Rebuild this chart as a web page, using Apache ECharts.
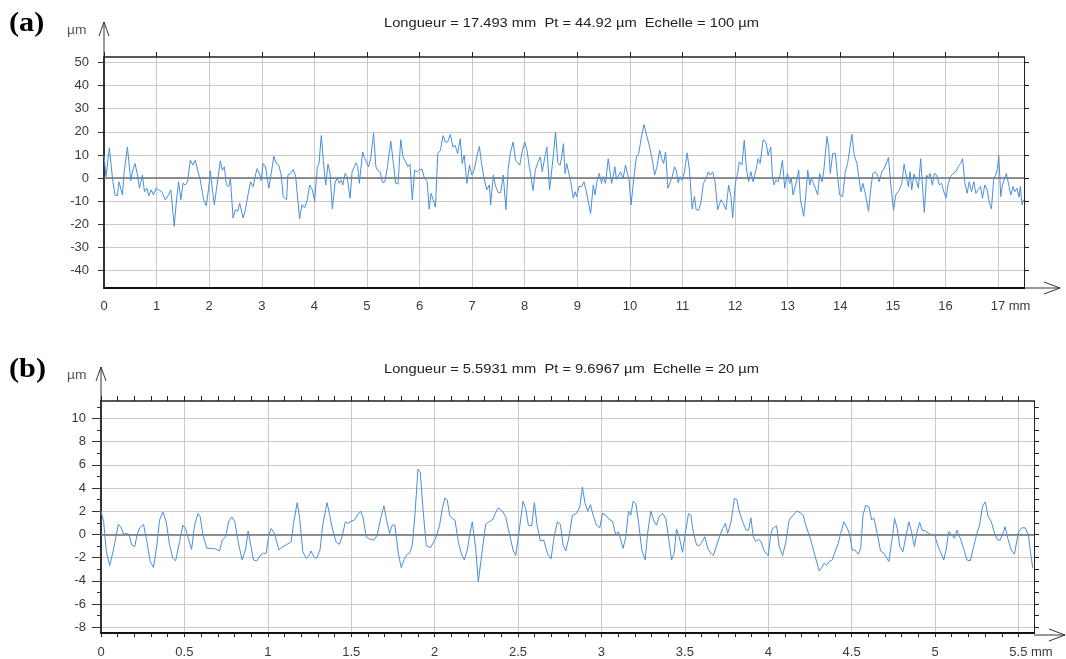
<!DOCTYPE html>
<html>
<head>
<meta charset="utf-8">
<script src="https://cdn.jsdelivr.net/npm/echarts@6/dist/echarts.min.js"></script>
<style>html,body{margin:0;padding:0;background:#fff}#c{width:1066px;height:659px}</style>
</head>
<body>
<div id="c"></div>
<script>
// ---------- texts ----------
const TITLE_A = 'Longueur = 17.493 mm  Pt = 44.92 µm  Echelle = 100 µm';
const TITLE_B = 'Longueur = 5.5931 mm  Pt = 9.6967 µm  Echelle = 20 µm';
const UNIT_Y = 'µm';
const UNIT_X = 'mm';

// ---------- axis ranges and ticks ----------
const A_X_RANGE = [0, 17.493];
const A_Y_RANGE = [-47.6, 52.4];
const A_X_TICKS = [0,1,2,3,4,5,6,7,8,9,10,11,12,13,14,15,16,17];
const A_Y_TICKS = [-40,-30,-20,-10,0,10,20,30,40,50];

const B_X_RANGE = [0, 5.5931];
const B_Y_RANGE = [-8.5, 11.5];
const B_X_TICKS = [0,0.5,1,1.5,2,2.5,3,3.5,4,4.5,5,5.5];
const B_X_MINOR = [0,0.1,0.2,0.3,0.4,0.5,0.6,0.7,0.8,0.9,1,1.1,1.2,1.3,1.4,1.5,1.6,1.7,1.8,1.9,2,2.1,2.2,2.3,2.4,2.5,2.6,2.7,2.8,2.9,3,3.1,3.2,3.3,3.4,3.5,3.6,3.7,3.8,3.9,4,4.1,4.2,4.3,4.4,4.5,4.6,4.7,4.8,4.9,5,5.1,5.2,5.3,5.4,5.5];
const B_Y_TICKS = [-8,-6,-4,-2,0,2,4,6,8,10];
const B_Y_MINOR = [-8,-7,-6,-5,-4,-3,-2,-1,0,1,2,3,4,5,6,7,8,9,10,11];

// ---------- profile (a): [x mm, z µm] ----------
const PROFILE_A = [
[0.000,9.9],[0.038,0.6],[0.102,13.1],[0.165,-0.9],[0.210,-7.3],[0.254,-7.7],[0.286,-1.6],[0.318,-1.6],[0.350,-7.3],[0.381,2.0],[0.445,13.4],[0.509,-1.1],[0.547,3.4],[0.591,6.3],[0.636,1.3],[0.674,-4.4],[0.731,1.3],[0.769,-5.9],[0.814,-4.4],[0.852,-7.7],[0.896,-5.1],[0.941,-7.3],[0.992,-4.4],[1.036,-5.1],[1.100,-5.9],[1.163,-9.4],[1.227,-7.3],[1.271,-5.1],[1.335,-20.9],[1.373,-10.9],[1.418,-1.6],[1.462,-9.4],[1.500,-2.3],[1.545,-3.0],[1.589,-1.6],[1.640,7.7],[1.691,5.6],[1.736,7.7],[1.780,3.4],[1.831,-0.9],[1.894,-9.4],[1.945,-12.0],[1.990,-4.4],[2.022,3.1],[2.054,-3.7],[2.098,-11.6],[2.149,-3.0],[2.212,7.4],[2.250,3.4],[2.289,4.9],[2.327,-3.0],[2.371,-3.7],[2.403,-0.1],[2.454,-17.3],[2.498,-13.7],[2.543,-14.4],[2.581,-10.9],[2.645,-17.3],[2.689,-13.7],[2.721,-9.4],[2.785,-1.6],[2.835,-3.7],[2.880,1.3],[2.912,4.1],[2.963,1.3],[2.988,-1.1],[3.026,6.3],[3.071,4.9],[3.134,-4.4],[3.179,2.0],[3.230,9.4],[3.274,6.3],[3.325,5.6],[3.369,1.3],[3.407,-8.0],[3.471,-9.4],[3.497,1.3],[3.547,2.0],[3.598,3.7],[3.643,0.9],[3.719,-17.7],[3.763,-11.6],[3.814,-13.0],[3.865,-9.4],[3.910,-3.0],[3.961,-5.1],[4.005,-10.1],[4.056,4.9],[4.088,6.3],[4.132,18.4],[4.170,7.7],[4.215,-3.0],[4.259,6.0],[4.298,2.0],[4.342,-13.4],
[4.396,-1.6],[4.434,-0.1],[4.472,-2.3],[4.509,-0.9],[4.541,-3.0],[4.585,2.0],[4.623,0.6],[4.679,-8.7],[4.717,2.7],[4.748,3.4],[4.792,6.6],[4.824,4.9],[4.855,-2.3],[4.918,11.3],[4.950,8.9],[4.987,8.4],[5.031,4.9],[5.075,9.1],[5.126,19.4],[5.170,4.9],[5.201,3.4],[5.252,2.7],[5.296,-2.0],[5.340,-1.6],[5.390,4.9],[5.453,16.0],[5.503,6.3],[5.547,-2.3],[5.591,-2.6],[5.642,16.6],[5.686,9.1],[5.736,7.0],[5.780,4.9],[5.818,6.0],[5.862,-9.4],[5.906,3.4],[5.956,2.7],[6.006,3.7],[6.050,3.7],[6.094,-0.1],[6.145,-1.6],[6.182,-13.4],[6.220,-6.6],[6.258,-9.4],[6.302,-12.6],[6.346,10.6],[6.396,12.0],[6.447,18.4],[6.491,15.6],[6.535,15.6],[6.585,18.9],[6.635,13.4],[6.679,14.1],[6.723,10.6],[6.774,17.0],[6.811,6.3],[6.849,9.9],[6.899,-2.3],[6.950,5.6],[6.994,1.3],[7.038,3.4],[7.088,9.1],[7.138,13.7],[7.182,5.6],[7.226,-0.1],[7.277,-5.1],[7.327,-3.0],[7.352,-11.6],[7.403,1.3],[7.447,-3.7],[7.497,-6.3],[7.541,-6.3],[7.591,1.3],[7.642,-13.7],[7.686,4.1],[7.730,11.3],[7.780,15.6],[7.824,7.7],[7.862,8.4],[7.906,5.6],[7.950,11.3],[8.000,15.6],[8.044,12.0],[8.082,5.6],[8.119,0.6],[8.157,-5.4],[8.201,3.4],[8.252,7.0],[8.296,9.1],[8.333,2.7],[8.377,8.4],[8.421,13.4],[8.472,-5.1],[8.503,-5.9],[8.547,10.6],[8.585,19.9],[8.629,6.6],[8.673,5.6],
[8.703,9.1],[8.735,14.9],[8.767,2.0],[8.798,6.3],[8.830,5.6],[8.874,-1.6],[8.924,-8.7],[8.956,-5.9],[8.987,-8.0],[9.032,-3.7],[9.082,-3.7],[9.126,-1.6],[9.164,-5.1],[9.208,-10.1],[9.252,-15.4],[9.303,-3.0],[9.334,-7.3],[9.379,-0.9],[9.416,2.0],[9.461,-2.3],[9.492,0.6],[9.536,-2.3],[9.587,8.4],[9.618,3.4],[9.650,-2.3],[9.681,0.6],[9.713,4.9],[9.744,-0.6],[9.782,-0.9],[9.820,2.7],[9.871,-0.1],[9.915,5.6],[9.953,4.9],[9.984,-0.9],[10.022,-11.6],[10.073,-0.1],[10.123,9.1],[10.167,10.6],[10.218,17.7],[10.268,23.1],[10.312,19.1],[10.344,18.4],[10.375,13.4],[10.426,7.7],[10.470,1.3],[10.514,4.9],[10.565,12.0],[10.603,8.4],[10.640,6.3],[10.678,11.3],[10.722,-4.4],[10.754,-4.4],[10.804,0.6],[10.849,4.9],[10.880,3.4],[10.918,-2.0],[10.956,0.6],[10.994,-0.9],[11.038,2.7],[11.088,10.9],[11.132,3.4],[11.183,-13.4],[11.227,-8.0],[11.259,-13.7],[11.309,-14.0],[11.353,-10.1],[11.397,-2.3],[11.448,-0.1],[11.492,2.7],[11.530,1.3],[11.574,2.7],[11.618,-1.6],[11.669,-13.7],[11.732,-9.4],[11.776,-10.9],[11.826,-13.7],[11.877,-3.0],[11.921,-8.0],[11.953,-17.3],[12.003,-2.3],[12.047,2.0],[12.079,7.0],[12.129,5.6],[12.174,16.3],[12.218,3.4],[12.256,-1.6],[12.300,2.7],[12.344,-1.6],[12.394,3.4],[12.438,8.4],[12.476,6.3],[12.533,16.6],[12.584,15.6],[12.628,9.9],[12.678,13.4],[12.710,0.6],[12.741,-3.0],[12.773,-0.9],[12.817,-1.6],[12.855,1.3],[12.899,7.7],[12.943,-4.4],[12.994,2.0],[13.038,-2.3],[13.069,-0.1],[13.101,-7.3],
[13.166,-1.6],[13.210,3.4],[13.242,-9.4],[13.274,-10.1],[13.305,-16.6],[13.337,-9.4],[13.381,3.4],[13.419,-3.0],[13.450,-0.1],[13.482,-0.9],[13.526,-4.4],[13.570,-7.3],[13.608,2.0],[13.653,-1.6],[13.684,2.7],[13.747,18.0],[13.779,13.4],[13.810,2.0],[13.855,10.6],[13.905,10.6],[13.949,0.6],[13.987,-7.3],[14.044,-8.0],[14.095,2.7],[14.139,6.3],[14.177,7.0],[14.221,18.9],[14.265,9.9],[14.316,6.3],[14.360,-0.9],[14.392,-5.9],[14.430,-2.3],[14.474,-6.6],[14.537,-14.4],[14.581,-4.4],[14.619,2.0],[14.663,2.7],[14.708,1.3],[14.739,-1.6],[14.790,2.7],[14.834,4.1],[14.872,3.4],[14.916,8.9],[14.960,-3.0],[15.011,-14.0],[15.055,-7.3],[15.087,-8.0],[15.124,-5.1],[15.169,-2.3],[15.213,6.0],[15.251,1.3],[15.295,-3.7],[15.327,2.7],[15.358,-5.1],[15.402,1.7],[15.453,-1.6],[15.485,-4.4],[15.529,8.4],[15.567,-5.1],[15.598,-14.9],[15.642,1.3],[15.674,-0.1],[15.706,2.0],[15.750,-3.0],[15.788,2.0],[15.832,1.3],[15.882,-3.0],[15.927,-2.3],[15.958,-5.1],[16.009,-8.7],[16.053,-2.3],[16.097,0.6],[16.148,2.0],[16.192,2.7],[16.243,4.9],[16.287,6.3],[16.325,8.4],[16.369,-2.3],[16.413,-6.6],[16.451,-1.6],[16.495,-5.9],[16.540,-1.6],[16.577,-6.6],[16.622,-5.1],[16.666,-3.7],[16.704,-8.7],[16.748,-3.0],[16.792,-5.1],[16.830,-10.1],[16.874,-13.4],[16.918,-0.1],[16.956,1.3],[16.988,4.1],[17.013,9.9],[17.051,-8.0],[17.083,-3.0],[17.127,-0.1],[17.158,2.0],[17.209,-3.7],[17.241,-7.3],[17.285,-3.7],[17.317,-5.9],[17.361,-4.4],[17.399,-8.3],[17.424,-3.7],[17.456,-11.6],[17.487,-9.4]
];

// ---------- profile (b): [x mm, z µm] ----------
const PROFILE_B = [
[0,2.0],[0.016,1.09],[0.032,-1.49],[0.052,-2.69],[0.072,-1.49],[0.088,-0.34],[0.104,0.86],[0.118,0.66],[0.136,0],[0.152,0.09],[0.168,0],[0.184,-0.91],[0.202,-1.06],[0.216,-0.06],[0.232,0.57],[0.255,0.86],[0.275,-0.63],[0.295,-2.34],[0.315,-2.86],[0.335,-0.91],[0.351,1.23],[0.371,1.94],[0.391,1.09],[0.411,-0.91],[0.431,-2.06],[0.447,-2.29],[0.471,-0.63],[0.491,0.8],[0.507,0.51],[0.523,-0.34],[0.543,-1.29],[0.561,0.8],[0.581,1.8],[0.595,1.51],[0.611,-0.06],[0.635,-1.2],[0.661,-1.2],[0.687,-1.26],[0.711,-1.43],[0.727,-0.49],[0.747,-0.2],[0.766,1.14],[0.784,1.51],[0.802,1.09],[0.822,-0.63],[0.846,-2.2],[0.866,-1.34],[0.882,0.29],[0.894,-0.63],[0.914,-2.2],[0.934,-2.29],[0.954,-1.83],[0.974,-1.63],[0.990,-1.63],[1.006,-0.06],[1.020,0.51],[1.040,0.09],[1.066,-1.34],[1.090,-1.06],[1.110,-0.91],[1.140,-0.63],[1.154,0.94],[1.176,2.74],[1.190,1.51],[1.210,-1.49],[1.230,-2.06],[1.250,-1.77],[1.259,-1.43],[1.279,-2.0],[1.293,-2.06],[1.313,-1.34],[1.329,0.8],[1.355,2.74],[1.369,1.8],[1.389,0.37],[1.409,-0.63],[1.429,-0.86],[1.445,-0.2],[1.465,1.09],[1.479,0.94],[1.499,1.14],[1.519,1.23],
[1.536,1.66],[1.556,2.0],[1.570,1.51],[1.590,-0.2],[1.610,-0.4],[1.636,-0.49],[1.656,-0.06],[1.676,1.37],[1.696,2.46],[1.710,1.37],[1.730,0.09],[1.746,0.8],[1.762,0.8],[1.782,-1.63],[1.800,-2.86],[1.816,-2.2],[1.836,-1.71],[1.850,-1.63],[1.866,-0.91],[1.882,1.66],[1.900,5.63],[1.914,5.37],[1.930,2.23],[1.950,-0.97],[1.976,-1.14],[1.986,-1.2],[2.006,-0.34],[2.030,0.8],[2.046,2.23],[2.062,3.14],[2.076,2.94],[2.090,1.66],[2.106,1.37],[2.122,1.23],[2.142,-0.63],[2.162,-1.77],[2.178,-2.2],[2.196,-1.34],[2.210,-0.06],[2.226,1.09],[2.246,-1.2],[2.262,-4.06],[2.282,-1.77],[2.306,0.86],[2.326,1.09],[2.350,1.31],[2.366,1.89],[2.382,2.29],[2.406,2.0],[2.426,1.51],[2.450,-0.06],[2.470,-1.34],[2.486,-1.83],[2.506,0.23],[2.530,2.86],[2.546,2.23],[2.562,0.8],[2.582,0.74],[2.598,2.74],[2.614,0.8],[2.634,-0.57],[2.654,-0.49],[2.676,-1.63],[2.698,-2.11],[2.716,-0.2],[2.736,1.09],[2.754,0.86],[2.770,-0.91],[2.786,-1.43],[2.806,-0.2],[2.826,1.66],[2.850,1.8],[2.870,2.37],[2.886,4.09],[2.902,2.66],[2.918,2.0],[2.934,2.57],[2.950,1.66],[2.970,0.8],[2.990,0.57],[3.006,1.8],[3.026,1.66],[3.046,1.31],[3.066,1.14],[3.086,-0.06],[3.102,0.23],[3.116,-0.49],[3.130,-1.2],[3.146,-0.2],[3.162,2.0],[3.176,1.66],[3.190,2.86],[3.206,2.66],[3.222,1.09],[3.242,-1.34],[3.262,-2.2],[3.278,0.23],[3.296,2.0],[3.316,1.09],[3.330,0.8],[3.346,1.51],[3.366,1.8],[3.386,1.37],[3.406,-0.63],[3.420,-2.2],[3.436,-1.63],[3.450,0.46],[3.466,-0.2],[3.486,-1.54],[3.506,0.37],[3.522,1.8],[3.536,1.66],[3.550,0.23],[3.570,-0.91],
[3.588,-0.97],[3.604,-0.63],[3.620,-0.2],[3.637,-1.2],[3.657,-1.63],[3.671,-1.83],[3.691,-0.91],[3.711,-0.06],[3.727,0.51],[3.743,0.94],[3.757,0.09],[3.777,1.09],[3.797,3.09],[3.811,3.03],[3.827,1.94],[3.847,1.09],[3.867,0.37],[3.882,0.37],[3.896,1.43],[3.910,-0.2],[3.926,-0.63],[3.942,-0.4],[3.956,-0.63],[3.976,-1.43],[4.000,-1.83],[4.016,0.09],[4.030,0.57],[4.050,0.74],[4.066,-1.06],[4.086,-1.83],[4.106,-0.63],[4.125,1.23],[4.149,1.66],[4.169,2.0],[4.189,1.89],[4.209,1.66],[4.225,0.8],[4.255,-0.49],[4.279,-1.77],[4.305,-3.14],[4.321,-2.86],[4.335,-2.49],[4.349,-2.69],[4.365,-2.34],[4.384,-2.2],[4.404,-1.34],[4.420,-0.77],[4.434,0.09],[4.454,1.09],[4.474,0.51],[4.488,0],[4.504,-1.34],[4.520,-1.34],[4.540,-1.71],[4.554,-1.2],[4.568,1.66],[4.584,2.51],[4.604,2.37],[4.620,1.23],[4.633,1.43],[4.653,0.09],[4.673,-1.43],[4.693,-1.63],[4.723,-2.34],[4.743,-0.34],[4.757,1.37],[4.773,0.51],[4.789,-1.06],[4.807,-1.49],[4.827,-0.06],[4.843,1.09],[4.859,0.23],[4.876,-1.06],[4.892,0.23],[4.908,1.03],[4.922,0.37],[4.942,0.29],[4.962,0.09],[4.982,-0.06],[4.998,-0.06],[5.018,-1.06],[5.032,-1.49],[5.052,-2.2],[5.066,-1.34],[5.082,0.23],[5.102,-0.06],[5.116,-0.34],[5.131,0.37],[5.151,-0.34],[5.171,-1.2],[5.191,-2.2],[5.211,-2.29],[5.231,-1.06],[5.251,0.09],[5.267,0.8],[5.285,2.46],[5.301,2.8],[5.317,1.6],[5.337,1.09],[5.357,0.09],[5.375,-0.49],[5.390,-0.49],[5.410,0.23],[5.420,0.66],[5.436,-0.34],[5.456,-1.34],[5.476,-1.71],[5.500,0.23],[5.520,0.57],[5.540,0.57],[5.560,-0.06],[5.574,-1.77],[5.586,-2.91]
];

// ---------- layout / style ----------
const FONT = '"Liberation Sans", Arial, sans-serif';
const GA = {left: 104, top: 57, width: 920, height: 231};
const GB = {left: 101, top: 401, width: 933, height: 234};
const LINE_COLOR = '#4a8fdc';
const GRID_COLOR = '#c9c9c9';
const LBL_SIZE = 13;
const LABEL = {color: '#3a3a3a', fontSize: LBL_SIZE, fontFamily: FONT};

function unitFormatter(last) {
  return function (v) {
    if (Math.abs(v - last) < 1e-9) return '{n|' + v + '}{u| ' + UNIT_X + '}';
    return '{p|' + v + '}';
  };
}
const RICH = {
  p: {color: '#3a3a3a', fontSize: LBL_SIZE, fontFamily: FONT},
  n: {color: '#3a3a3a', fontSize: LBL_SIZE, fontFamily: FONT, padding: [0, 0, 0, 25]},
  u: {color: '#3a3a3a', fontSize: LBL_SIZE, fontFamily: FONT}
};

function ax(grid, range, opts) {
  const base = {
    type: 'value', gridIndex: grid, min: range[0], max: range[1],
    axisLine: {show: false, onZero: false}, axisTick: {show: false}, axisLabel: {show: false},
    splitLine: {show: false}
  };
  const o = Object.assign(base, opts);
  o.axisLine = Object.assign({onZero: false}, o.axisLine);
  return o;
}

const option = {
  animation: false,
  backgroundColor: '#ffffff',
  grid: [
    Object.assign({containLabel: false}, GA),
    Object.assign({containLabel: false}, GB)
  ],
  xAxis: [
    // 0: chart a bottom (labels + vertical grid)
    ax(0, A_X_RANGE, {position: 'bottom',
      axisLine: {show: true, lineStyle: {color: '#111', width: 2}},
      axisTick: {show: false, customValues: A_X_TICKS},
      axisLabel: {show: true, customValues: A_X_TICKS, margin: 12, formatter: unitFormatter(17), rich: RICH},
      splitLine: {show: true, lineStyle: {color: GRID_COLOR, width: 1}}}),
    // 1: chart a top border
    ax(0, A_X_RANGE, {position: 'top',
      axisLine: {show: true, lineStyle: {color: '#222', width: 1.5}},
      axisTick: {show: true, customValues: A_X_TICKS, length: 5, lineStyle: {color: '#222', width: 1}}}),
    // 2: chart b bottom (labels + minor ticks)
    ax(1, B_X_RANGE, {position: 'bottom',
      axisLine: {show: true, lineStyle: {color: '#111', width: 2}},
      axisTick: {show: true, customValues: B_X_MINOR, length: 4, lineStyle: {color: '#222', width: 1}},
      axisLabel: {show: true, customValues: B_X_TICKS, margin: 13, formatter: unitFormatter(5.5), rich: RICH}}),
    // 3: chart b vertical grid
    ax(1, B_X_RANGE, {position: 'bottom',
      axisTick: {show: false, customValues: B_X_TICKS},
      splitLine: {show: true, lineStyle: {color: GRID_COLOR, width: 1}}}),
    // 4: chart b top border
    ax(1, B_X_RANGE, {position: 'top',
      axisLine: {show: true, lineStyle: {color: '#222', width: 1.5}},
      axisTick: {show: true, customValues: B_X_MINOR, length: 5, lineStyle: {color: '#222', width: 1}}})
  ],
  yAxis: [
    // 0: chart a left
    ax(0, A_Y_RANGE, {position: 'left',
      axisLine: {show: true, lineStyle: {color: '#333', width: 2}},
      axisTick: {show: true, customValues: A_Y_TICKS, length: 6, lineStyle: {color: '#333', width: 1}},
      axisLabel: Object.assign({show: true, customValues: A_Y_TICKS, margin: 15}, LABEL),
      splitLine: {show: true, lineStyle: {color: GRID_COLOR, width: 1}}}),
    // 1: chart a right border
    ax(0, A_Y_RANGE, {position: 'right',
      axisLine: {show: true, lineStyle: {color: '#222', width: 1}},
      axisTick: {show: true, customValues: A_Y_TICKS, length: 5, lineStyle: {color: '#222', width: 1}}}),
    // 2: chart b left (labels + major ticks + grid)
    ax(1, B_Y_RANGE, {position: 'left',
      axisLine: {show: true, lineStyle: {color: '#333', width: 2}},
      axisTick: {show: true, customValues: B_Y_TICKS, length: 9, lineStyle: {color: '#333', width: 1}},
      axisLabel: Object.assign({show: true, customValues: B_Y_TICKS, margin: 15}, LABEL),
      splitLine: {show: true, lineStyle: {color: GRID_COLOR, width: 1}}}),
    // 3: chart b left minor ticks
    ax(1, B_Y_RANGE, {position: 'left',
      axisTick: {show: true, customValues: B_Y_MINOR, length: 4, lineStyle: {color: '#333', width: 1}}}),
    // 4: chart b right border
    ax(1, B_Y_RANGE, {position: 'right',
      axisLine: {show: true, lineStyle: {color: '#222', width: 1}},
      axisTick: {show: true, customValues: B_Y_MINOR, length: 5, lineStyle: {color: '#222', width: 1}}})
  ],
  series: [
    {type: 'line', name: 'a', xAxisIndex: 0, yAxisIndex: 0, data: PROFILE_A,
     showSymbol: false, symbol: 'none', lineStyle: {color: LINE_COLOR, width: 1}, z: 3,
     markLine: {silent: true, symbol: 'none', label: {show: false}, z: 2,
       lineStyle: {color: '#6f6f6f', width: 1.5, type: 'solid'}, data: [{yAxis: 0}]}},
    {type: 'line', name: 'b', xAxisIndex: 2, yAxisIndex: 2, data: PROFILE_B,
     showSymbol: false, symbol: 'none', lineStyle: {color: LINE_COLOR, width: 1}, z: 3,
     markLine: {silent: true, symbol: 'none', label: {show: false}, z: 2,
       lineStyle: {color: '#6f6f6f', width: 1.5, type: 'solid'}, data: [{yAxis: 0}]}}
  ],
  graphic: []
};

// decorations: titles, panel letters, unit labels and axis arrows
function arrowsFor(g, yApex, xApex) {
  const x0 = g.left, yTop = g.top, yBot = g.top + g.height, xR = g.left + g.width;
  const st = {stroke: '#333', lineWidth: 1, fill: null};
  return [
    {type: 'polyline', shape: {points: [[x0, yTop], [x0, yApex]]}, style: st, silent: true},
    {type: 'polyline', shape: {points: [[x0 - 5, yApex + 14], [x0, yApex], [x0 + 5, yApex + 14]]}, style: st, silent: true},
    {type: 'polyline', shape: {points: [[xR, yBot], [xApex, yBot]]}, style: st, silent: true},
    {type: 'polyline', shape: {points: [[xApex - 16, yBot - 6], [xApex, yBot], [xApex - 16, yBot + 6]]}, style: st, silent: true}
  ];
}
const TITLE_FONT = '13px ' + FONT;
const LETTER_FONT = 'bold 27px "Liberation Serif", "Times New Roman", serif';
option.graphic = [
  {type: 'text', x: 384, y: 17, scaleX: 1.13, style: {text: TITLE_A, font: TITLE_FONT, fill: '#222'}},
  {type: 'text', x: 384, y: 363, scaleX: 1.13, style: {text: TITLE_B, font: TITLE_FONT, fill: '#222'}},
  {type: 'text', x: 9, y: 11, scaleX: 1.12, style: {text: '(a)', font: LETTER_FONT, fill: '#000'}},
  {type: 'text', x: 9, y: 357, scaleX: 1.12, style: {text: '(b)', font: LETTER_FONT, fill: '#000'}},
  {type: 'text', x: 67, y: 25, scaleX: 1.15, style: {text: UNIT_Y, font: '12px ' + FONT, fill: '#555'}},
  {type: 'text', x: 67, y: 370, scaleX: 1.15, style: {text: UNIT_Y, font: '12px ' + FONT, fill: '#555'}}
].concat(arrowsFor(GA, 22, 1060), arrowsFor(GB, 367, 1065));

const chart = echarts.init(document.getElementById('c'), null, {renderer: 'canvas', width: 1066, height: 659});
chart.setOption(option);
</script>
</body>
</html>
